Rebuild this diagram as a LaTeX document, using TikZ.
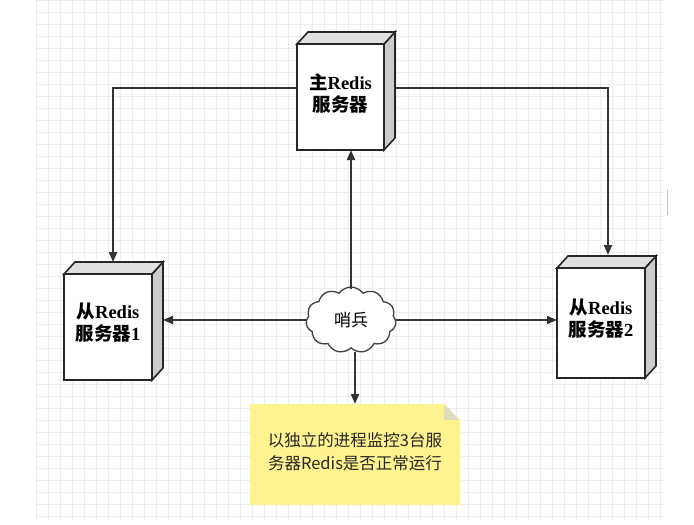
\documentclass[tikz,border=0pt]{standalone}
\usepackage{fontspec}
\setmainfont{Liberation Serif}
\newfontfamily\cjk{Noto Sans CJK SC}
\usetikzlibrary{shapes.symbols,arrows.meta}
\tikzset{
 conn/.style={draw=black!80,line width=2pt,-{Triangle[length=10pt,width=8pt]}},
 face/.style={draw=black!85,line width=1.6pt},
 lbl/.style={align=center,font=\fontsize{18.5}{22}\selectfont\bfseries}
}
\newcommand{\srv}[6]{% name, x1,y1,x2,y2, text
 \draw[face,fill=black!20] (#4,#3) -- ++(11,-12) -- (#4+11,#5-12) -- (#4,#5) -- cycle;
 \draw[face,fill=black!12] (#2,#3) -- ++(11,-12) -- (#4+11,#3-12) -- (#4,#3) -- cycle;
 \draw[face,fill=white] (#2,#3) rectangle (#4,#5);
 \node[lbl] (#1) at ({(#2+#4)/2},{(#3+#5)/2-4}) {#6};
}
\begin{document}
\begin{tikzpicture}[x=1pt,y=-1pt]
\useasboundingbox (0,0) rectangle (694,525);
\fill[white] (0,0) rectangle (694,525);
\foreach \i in {0,...,52} {\draw[black!7,line width=0.5pt] (36+12*\i,0) -- (36+12*\i,520);}
\foreach \j in {0,...,43} {\draw[black!7,line width=0.5pt] (36,12*\j) -- (664,12*\j);}
\draw[black!25,line width=0.8pt] (667,190) -- (667,215);
\srv{m}{297}{44}{384}{150}{{\cjk 主}Redis\\{\cjk 服务器}}
\srv{l}{64}{274}{152}{380}{{\cjk 从}Redis\\{\cjk 服务器}1}
\srv{r}{557}{268}{645}{378}{{\cjk 从}Redis\\{\cjk 服务器}2}
\node[cloud,cloud puffs=11,cloud puff arc=110,aspect=1.4,draw=black!75,line width=1.3pt,fill=white,
 minimum width=90pt,minimum height=66pt,inner sep=0pt,font=\cjk\fontsize{17}{19}\selectfont] (s) at (351,320) {哨兵};
\fill[yellow!40!white!95!orange] (250,404) -- (444,404) -- (460,420) -- (460,505) -- (250,505) -- cycle;
\fill[yellow!50!black!30] (444,404) -- (460,420) -- (444,420) -- cycle;
\node[align=center,font=\cjk\fontsize{16.5}{23}\selectfont,text=black!85] (n) at (355,452) {以独立的进程监控3台服\\务器Redis是否正常运行};
\coordinate (ntop) at (355,404);
\coordinate (mL) at (297,88); \coordinate (mR) at (396,88);
\coordinate (mB) at (351,150);
\coordinate (lT) at (113,262); \coordinate (rT) at (608,255);
\coordinate (sN) at (351,289); \coordinate (sW) at (306,320); \coordinate (sE) at (396,320); \coordinate (sS) at (355,352);
\draw[conn] (mL) -| (lT);
\draw[conn] (mR) -| (rT);
\draw[conn] (sN) -- (mB);
\draw[conn] (sW) -- (163,320);
\draw[conn] (sE) -- (557,320);
\draw[conn] (sS) -- (ntop);
\end{tikzpicture}
\end{document}
